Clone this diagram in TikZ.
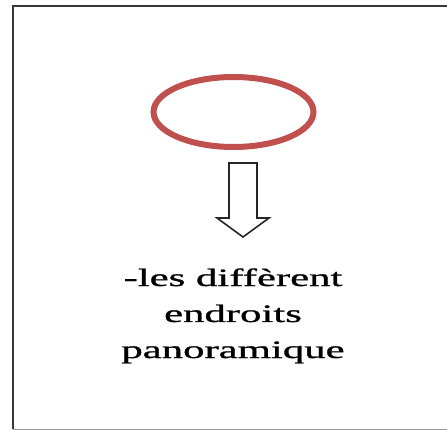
\documentclass[tikz,border=0pt]{standalone}
\usepackage{fontspec}
\usetikzlibrary{shapes.geometric}
\setmainfont{Liberation Serif}
\newfontfamily\labelfont[FakeBold=0.8]{Liberation Serif}
\definecolor{ovalred}{RGB}{192,80,77}
\begin{document}
\begin{tikzpicture}[x=1pt,y=-1pt,
  frame/.style={draw=black!78,line width=2.4pt},
  oval/.style={ellipse,draw=ovalred,line width=6pt,minimum width=160pt,minimum height=70pt,inner sep=0pt},
  blockarrow/.style={draw=black!85,line width=1.6pt,fill=white,line join=miter},
  label/.style={align=center,font=\labelfont\fontsize{25}{36}\selectfont,xscale=1.71,inner sep=0pt}]
\useasboundingbox (0,0) rectangle (447,430);
\fill[white] (0,0) rectangle (447,430);
\draw[frame] (450,6) -- (13,6) -- (13,429);
\draw[black!40,line width=1.2pt] (13,429.3) -- (450,429.3);
\node[oval] (o) at (233.5,112) {};
\draw[blockarrow] (229,163) -- (257,163) -- (257,218) -- (269,218) -- (243,237) -- (217,218) -- (229,218) -- cycle;
\node[label,anchor=base] (t) at (233,358) {-les diffèrent\\endroits\\panoramique};
\end{tikzpicture}
\end{document}
